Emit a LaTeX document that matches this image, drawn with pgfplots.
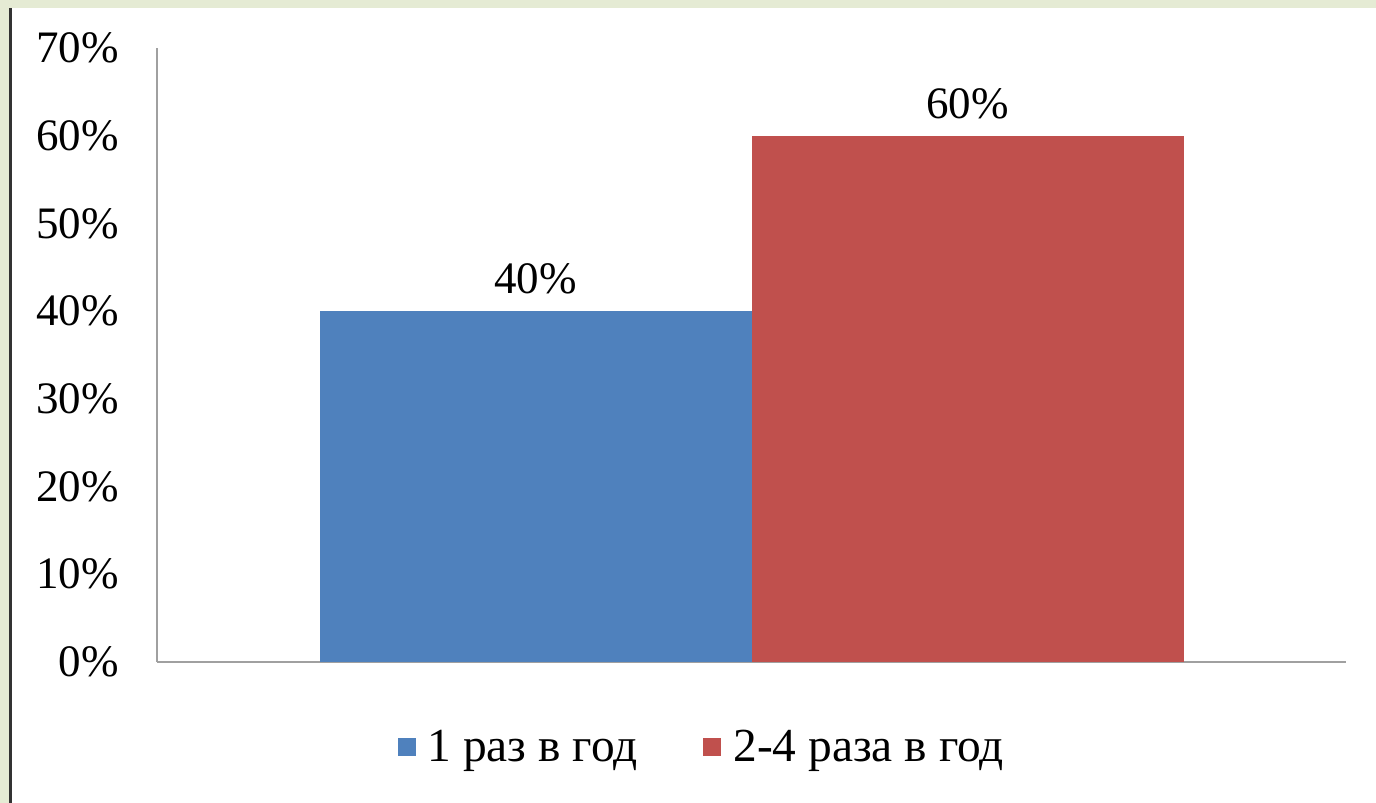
\documentclass[border=0pt]{standalone}
\usepackage{fontspec}
\setmainfont{Liberation Serif}
\usepackage{pgfplots}
\pgfplotsset{compat=1.18}

\definecolor{xlblue}{HTML}{4F81BD}
\definecolor{xlred}{HTML}{C0504D}
\definecolor{frame}{RGB}{229,235,212}
\definecolor{axgray}{RGB}{160,160,160}

\newcommand{\bigfont}{\fontsize{22.5pt}{26pt}\selectfont}
\newcommand{\legfont}{\fontsize{23.7pt}{27pt}\selectfont}

\pgfplotsset{
  sqlegend/.style={legend image code/.code={\fill[##1] (0pt,-4.5pt) rectangle (9pt,4.5pt);}}
}

\begin{document}
\begin{tikzpicture}
% slide background: light green frame with dark left rule
\fill[frame] (0,0) rectangle (688pt,401.5pt);
\fill[white] (6pt,0) rectangle (688pt,397.5pt);
\fill[black!80] (4.5pt,0) rectangle (6pt,397.5pt);

\begin{axis}[
    at={(78.5pt,70.5pt)}, anchor=south west,
    scale only axis,
    width=594.5pt, height=307pt,
    ybar=0pt,
    bar width=216pt,
    xmin=-1, xmax=1,
    ymin=0, ymax=70,
    xtick=\empty,
    ytick={0,10,...,70},
    /pgf/number format/assume math mode=true,
    yticklabel={\pgfmathprintnumber{\tick}\%},
    yticklabel style={font=\bigfont, xshift=-15.5pt},
    major tick length=0pt,
    axis x line=bottom, axis y line=left,
    axis line style={draw=axgray, line width=1pt, -},
    nodes near coords={\pgfmathprintnumber{\pgfplotspointmeta}\%},
    every node near coord/.append style={font=\bigfont, text=black, yshift=5pt},
    legend columns=2,
    legend style={draw=none, fill=none, font=\legfont,
        at={(axis description cs:0.459,0)}, anchor=center, yshift=-42.5pt,
        /tikz/every odd column/.append style={column sep=4pt},
        /tikz/every even column/.append style={column sep=31pt}},
    sqlegend,
]
\addplot[fill=xlblue, draw=none] coordinates {(0,40)};
\addlegendentry{1 раз в год}
\addplot[fill=xlred, draw=none] coordinates {(0,60)};
\addlegendentry{2-4 раза в год}
\end{axis}
\pgfresetboundingbox
\useasboundingbox (0,0) rectangle (688pt,401.5pt);
\end{tikzpicture}
\end{document}
